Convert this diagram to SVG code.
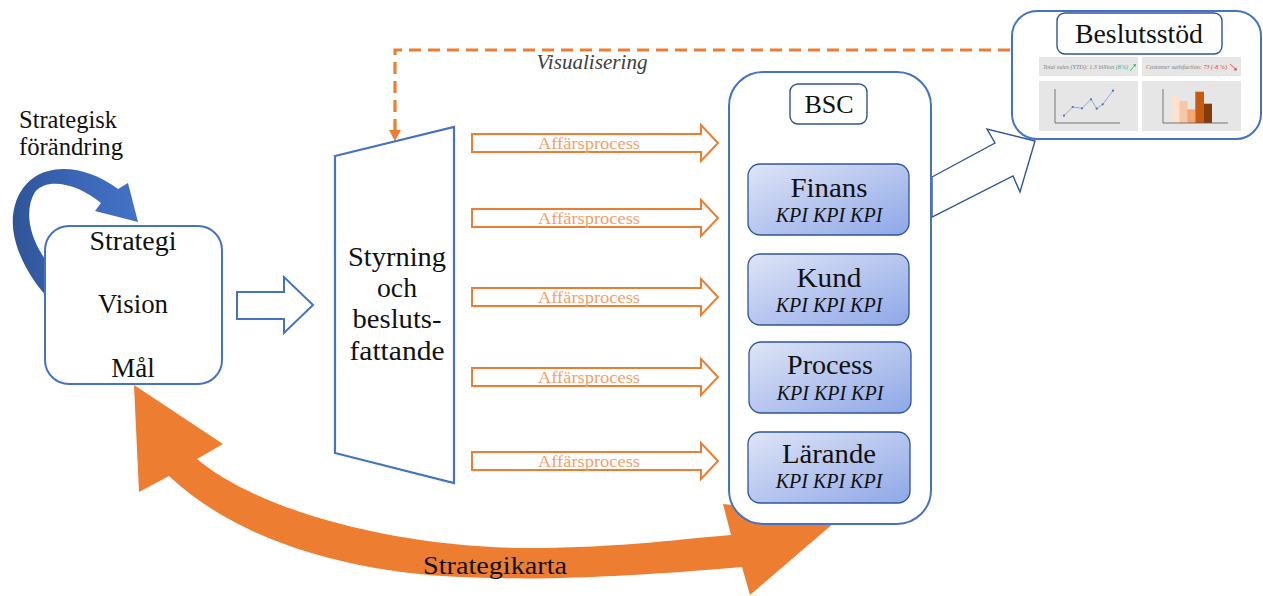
<svg xmlns="http://www.w3.org/2000/svg" width="1263" height="596" viewBox="0 0 1263 596">
<style>
.t{font-family:"Liberation Serif","Times New Roman",serif;fill:#111;text-anchor:middle}
.it{font-style:italic}
.node{fill:#fff;stroke:#4472C4;stroke-width:2}
.title{fill:#fff;stroke:#2F5597;stroke-width:1.4}
.kpi{fill:url(#kg);stroke:#2F5597;stroke-width:1.3}
.proc{fill:#fff;stroke:#ED7D31;stroke-width:2}
.plab{font-family:"Liberation Serif","Times New Roman",serif;fill:#F4A06A;font-size:17.5px;text-anchor:middle}
.panel{fill:#e6e6e6}
.axis{fill:none;stroke:#595959;stroke-width:0.8}
.small{font-family:"Liberation Serif","Times New Roman",serif;font-style:italic;font-size:5.8px;fill:#808080}
</style>
<defs>
<linearGradient id="kg" x1="0" y1="0" x2="1" y2="1">
<stop offset="0" stop-color="#dfe5f7"/>
<stop offset="1" stop-color="#8ea7e7"/>
</linearGradient>
<linearGradient id="bg" x1="0" y1="0" x2="1" y2="0">
<stop offset="0" stop-color="#2F5597"/>
<stop offset="0.5" stop-color="#3b66b8"/>
<stop offset="1" stop-color="#4472C4"/>
</linearGradient>
</defs>

<g id="connectors">
<!-- Strategikarta double arrow -->
<path d="M134,385 L223,444 L197,459 C260,512 400,548 530,548 C620,548 690,538 731,535 L723,504 L842,516 L750,595 L742,567 C650,575 560,580 497,578 C380,578 250,552 169,476 L139,492 Z" fill="#ED7D31"/>
<!-- Strategisk förändring curved arrow -->
<path d="M118,189 L128,183 L138,222 L95,211 L101,203 C80,185 48,176 35,192 C24,210 28,240 52,268 L52,302 C25,275 6,235 15,205 C28,160 80,160 118,189 Z" fill="url(#bg)"/>
<!-- Strategi -> Styrning -->
<polygon points="237,292 284,292 284,277 313,305 284,333 284,319 237,319" fill="#fff" stroke="#4472C4" stroke-width="2"/>
<!-- Affärsprocess arrows -->
<polygon class="proc" points="472,134 701,134 701,125 718,143 701,161 701,152 472,152"/>
<text class="plab" x="589" y="149" textLength="102" lengthAdjust="spacingAndGlyphs">Affärsprocess</text>
<polygon class="proc" points="472,209 701,209 701,200 718,218 701,236 701,227 472,227"/>
<text class="plab" x="589" y="224" textLength="102" lengthAdjust="spacingAndGlyphs">Affärsprocess</text>
<polygon class="proc" points="472,288 701,288 701,279 718,297 701,315 701,306 472,306"/>
<text class="plab" x="589" y="303" textLength="102" lengthAdjust="spacingAndGlyphs">Affärsprocess</text>
<polygon class="proc" points="472,368 701,368 701,359 718,377 701,395 701,386 472,386"/>
<text class="plab" x="589" y="383" textLength="102" lengthAdjust="spacingAndGlyphs">Affärsprocess</text>
<polygon class="proc" points="472,452 701,452 701,443 718,461 701,479 701,470 472,470"/>
<text class="plab" x="589" y="467" textLength="102" lengthAdjust="spacingAndGlyphs">Affärsprocess</text>
<!-- Visualisering dashed -->
<path d="M1010,50 L395,50 L395,131" fill="none" stroke="#ED7D31" stroke-width="3.2" stroke-dasharray="12 7"/>
<path d="M389,130 L401,130 L395,141 Z" fill="#ED7D31"/>
<text class="t it" x="592" y="69" font-size="21" style="fill:#404040" textLength="111" lengthAdjust="spacingAndGlyphs">Visualisering</text>
<!-- BSC -> Beslutsstöd -->
<polygon points="932,177 995,143 987,129 1035,141 1020,192 1013,176 932,217" fill="#fff" stroke="#2F5597" stroke-width="1.4"/>
</g>

<g id="strategisk-forandring-label">
<text class="t" x="68" y="128" font-size="24.5" textLength="98" lengthAdjust="spacingAndGlyphs">Strategisk</text>
<text class="t" x="71" y="155" font-size="24.5" textLength="104" lengthAdjust="spacingAndGlyphs">förändring</text>
</g>

<g id="strategi">
<rect class="node" x="45" y="226" width="177" height="158" rx="24"/>
<text class="t" x="133" y="250" font-size="27" textLength="87" lengthAdjust="spacingAndGlyphs">Strategi</text>
<text class="t" x="133" y="313" font-size="27" textLength="70" lengthAdjust="spacingAndGlyphs">Vision</text>
<text class="t" x="133" y="377" font-size="27">Mål</text>
</g>

<g id="styrning">
<polygon points="335,156 454,127 454,483 335,453" fill="#fff" stroke="#4472C4" stroke-width="2.2"/>
<text class="t" x="397" y="266" font-size="27" textLength="98" lengthAdjust="spacingAndGlyphs">Styrning</text>
<text class="t" x="397" y="297" font-size="27" textLength="40" lengthAdjust="spacingAndGlyphs">och</text>
<text class="t" x="397" y="328" font-size="27" textLength="89" lengthAdjust="spacingAndGlyphs">besluts-</text>
<text class="t" x="397" y="360" font-size="27" textLength="95" lengthAdjust="spacingAndGlyphs">fattande</text>
</g>

<g id="bsc">
<rect class="node" x="729" y="72" width="202" height="452" rx="34"/>
<rect class="title" x="790" y="84" width="77" height="40" rx="8"/>
<text class="t" x="829" y="113" font-size="26">BSC</text>
</g>

<g id="finans">
<rect class="kpi" x="748" y="164" width="161" height="71" rx="12"/>
<text class="t" x="829" y="197" font-size="27" textLength="77" lengthAdjust="spacingAndGlyphs">Finans</text>
<text class="t it" x="829" y="222" font-size="20">KPI KPI KPI</text>
</g>
<g id="kund">
<rect class="kpi" x="748" y="254" width="161" height="71" rx="12"/>
<text class="t" x="829" y="287" font-size="27" textLength="65" lengthAdjust="spacingAndGlyphs">Kund</text>
<text class="t it" x="829" y="312" font-size="20">KPI KPI KPI</text>
</g>
<g id="process">
<rect class="kpi" x="749" y="342" width="162" height="71" rx="12"/>
<text class="t" x="830" y="374" font-size="27" textLength="86" lengthAdjust="spacingAndGlyphs">Process</text>
<text class="t it" x="830" y="400" font-size="20">KPI KPI KPI</text>
</g>
<g id="larande">
<rect class="kpi" x="748" y="432" width="162" height="71" rx="12"/>
<text class="t" x="829" y="463" font-size="27" textLength="94" lengthAdjust="spacingAndGlyphs">Lärande</text>
<text class="t it" x="829" y="488" font-size="20">KPI KPI KPI</text>
</g>

<g id="beslutsstod">
<rect class="node" x="1012" y="11" width="249" height="128" rx="25"/>
<rect class="title" x="1057" y="13" width="165" height="41" rx="8"/>
<text class="t" x="1139" y="43" font-size="27" textLength="128" lengthAdjust="spacingAndGlyphs">Beslutsstöd</text>
<rect class="panel" x="1039" y="57" width="99" height="19"/>
<rect class="panel" x="1142" y="57" width="99" height="19"/>
<rect class="panel" x="1039" y="81" width="99" height="50"/>
<rect class="panel" x="1142" y="81" width="99" height="50"/>
<text class="small" x="1043" y="68.5" textLength="85" lengthAdjust="spacingAndGlyphs">Total sales (YTD): 1.3 billion <tspan fill="#3bb273">(8%)</tspan></text>
<path d="M1130,71 L1135,65" stroke="#3bb273" stroke-width="0.9"/>
<path d="M1136,64 L1133,64.6 L1135.4,67 Z" fill="#3bb273"/>
<text class="small" x="1146" y="68.5" textLength="81" lengthAdjust="spacingAndGlyphs">Customer satisfaction: <tspan fill="#e8413c">73 (-8 %)</tspan></text>
<path d="M1230,64 L1236,69.5" stroke="#e8413c" stroke-width="0.9"/>
<path d="M1237,70.5 L1233.6,70.2 L1236.4,67.4 Z" fill="#e8413c"/>
<path class="axis" d="M1055,89 L1055,123 L1120,123"/>
<polyline points="1064,115.7 1072.7,107 1082,108.3 1091,99.3 1096.7,108.7 1102.7,104.3 1113,90.7" fill="none" stroke="#7f9bd6" stroke-width="0.8"/>
<g fill="#4a6fc0">
<circle cx="1064" cy="115.7" r="1.1"/><circle cx="1072.7" cy="107" r="1.1"/><circle cx="1082" cy="108.3" r="1.1"/><circle cx="1091" cy="99.3" r="1.1"/><circle cx="1096.7" cy="108.7" r="1.1"/><circle cx="1102.7" cy="104.3" r="1.1"/><circle cx="1113" cy="90.7" r="1.1"/>
</g>
<rect x="1171.7" y="95.3" width="8.3" height="27.7" fill="#fbe2d0"/>
<rect x="1179.5" y="101" width="8" height="22" fill="#f6c8a5"/>
<rect x="1187.3" y="109.3" width="8" height="13.7" fill="#f3a774"/>
<rect x="1195.3" y="91.7" width="8.7" height="31.3" fill="#c55a11"/>
<rect x="1204" y="103.7" width="8" height="19.3" fill="#843c0c"/>
<path class="axis" d="M1163,89 L1163,123 L1228,123"/>
</g>

<g id="strategikarta-label">
<text class="t" x="495" y="574" font-size="25" textLength="144" lengthAdjust="spacingAndGlyphs">Strategikarta</text>
</g>
</svg>
